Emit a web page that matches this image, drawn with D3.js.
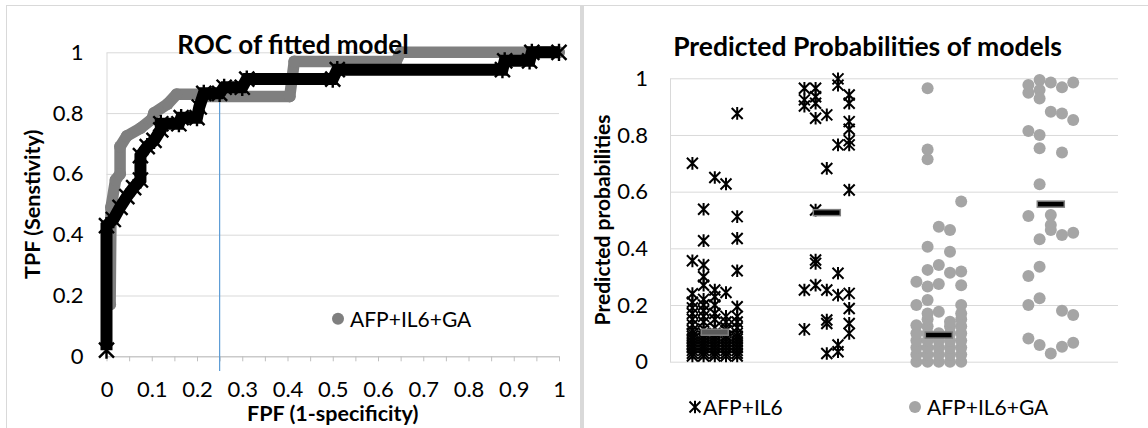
<!DOCTYPE html>
<html>
<head>
<meta charset="utf-8">
<script src="https://cdn.jsdelivr.net/npm/d3@7"></script>
<style>
  body { margin: 0; background: #fff; }
  svg text { font-family: Lato, "Liberation Sans", sans-serif; fill: #000; }
</style>
</head>
<body>
<svg id="chart" width="1148" height="428"></svg>
<script>
// ROC curve vertices, [FPF, TPF].
const rocAfpIl6 = [
  [0, 0.02], [0, 0.43], [0.015, 0.45], [0.03, 0.49], [0.045, 0.525], [0.06, 0.555],
  [0.075, 0.58], [0.075, 0.66], [0.09, 0.69], [0.105, 0.71], [0.12, 0.745], [0.12, 0.765],
  [0.16, 0.765], [0.165, 0.785], [0.2, 0.785], [0.205, 0.82], [0.215, 0.865], [0.25, 0.865],
  [0.26, 0.885], [0.3, 0.885], [0.31, 0.912], [0.5, 0.912], [0.51, 0.943], [0.875, 0.943],
  [0.88, 0.972], [0.935, 0.972], [0.94, 1], [1, 1],
];
const rocAfpIl6Ga = [
  [0.008, 0.17], [0.01, 0.49], [0.02, 0.58], [0.03, 0.6], [0.03, 0.69], [0.045, 0.725],
  [0.075, 0.75], [0.1, 0.78], [0.105, 0.8], [0.135, 0.83], [0.155, 0.862], [0.21, 0.862],
  [0.22, 0.855], [0.405, 0.855], [0.415, 0.97], [0.64, 0.97], [0.65, 1], [1, 1],
];
const cutoffFpf = 0.25;
const cutoffTpf = [-0.048, 0.86];

const rocTicks = [0, 0.1, 0.2, 0.3, 0.4, 0.5, 0.6, 0.7, 0.8, 0.9, 1];
const rocMinorTicks = [0, 0.05, 0.1, 0.15, 0.2, 0.25, 0.3, 0.35, 0.4, 0.45, 0.5,
  0.55, 0.6, 0.65, 0.7, 0.75, 0.8, 0.85, 0.9, 0.95, 1];
const probTicks = [0, 0.2, 0.4, 0.6, 0.8, 1];

// Predicted probabilities, [jitter column, values].
const il6Neg = [
  [0.2, [0.02, 0.03, 0.04, 0.05, 0.06, 0.07, 0.08, 0.09, 0.1, 0.11, 0.13, 0.15, 0.17, 0.19, 0.21, 0.24, 0.356, 0.70]],
  [0.3, [0.02, 0.03, 0.04, 0.05, 0.06, 0.07, 0.08, 0.09, 0.1, 0.115, 0.14, 0.16, 0.18, 0.2, 0.22, 0.27, 0.30, 0.341, 0.427, 0.538]],
  [0.4, [0.02, 0.03, 0.04, 0.05, 0.06, 0.07, 0.08, 0.09, 0.1, 0.12, 0.15, 0.17, 0.2, 0.229, 0.253, 0.65]],
  [0.5, [0.02, 0.03, 0.04, 0.05, 0.06, 0.07, 0.08, 0.09, 0.11, 0.12, 0.14, 0.16, 0.244, 0.627]],
  [0.6, [0.02, 0.03, 0.04, 0.05, 0.06, 0.07, 0.08, 0.09, 0.1, 0.12, 0.14, 0.16, 0.194, 0.321, 0.435, 0.512, 0.876]],
];
const il6Pos = [
  [1.2, [0.965, 0.924, 0.902, 0.253, 0.114]],
  [1.3, [0.965, 0.935, 0.912, 0.859, 0.535, 0.359, 0.347, 0.27]],
  [1.4, [0.871, 0.682, 0.253, 0.147, 0.135, 0.029]],
  [1.5, [0.998, 0.976, 0.765, 0.312, 0.235, 0.059, 0.035]],
  [1.6, [0.941, 0.912, 0.847, 0.82, 0.78, 0.765, 0.606, 0.241, 0.188, 0.135, 0.1]],
];
const gaNeg = [
  [2.2, [0, 0.025, 0.05, 0.075, 0.1, 0.129, 0.2, 0.282]],
  [2.3, [0, 0.025, 0.05, 0.075, 0.1, 0.125, 0.15, 0.17, 0.218, 0.265, 0.324, 0.406, 0.714, 0.749, 0.965]],
  [2.4, [0, 0.025, 0.05, 0.075, 0.1, 0.176, 0.274, 0.341, 0.476]],
  [2.5, [0, 0.025, 0.05, 0.075, 0.1, 0.125, 0.141, 0.314, 0.388, 0.465]],
  [2.6, [0, 0.025, 0.05, 0.075, 0.1, 0.125, 0.15, 0.17, 0.2, 0.27, 0.318, 0.565]],
];
const gaPos = [
  [3.2, [0.976, 0.949, 0.814, 0.514, 0.302, 0.2, 0.082]],
  [3.3, [0.994, 0.959, 0.929, 0.8, 0.753, 0.626, 0.432, 0.335, 0.224, 0.059]],
  [3.4, [0.985, 0.882, 0.518, 0.482, 0.465, 0.029]],
  [3.5, [0.968, 0.876, 0.738, 0.447, 0.18, 0.053]],
  [3.6, [0.985, 0.853, 0.455, 0.165, 0.067]],
];
const meanX = [0.4, 1.4, 2.4, 3.4];
const meanY = [0.104, 0.526, 0.094, 0.556];

const seriesNames = ['AFP+IL6', 'AFP+IL6+GA'];

const flatten = cols => cols.flatMap(([x, ys]) => ys.map(y => ({ x, y })));

// Excel style star marker: an X crossed by a vertical bar.
const starPath = s => `M${-s},${-s}L${s},${s}M${-s},${s}L${s},${-s}M0,${-s * 1.15}L0,${s * 1.15}`;

const svg = d3.select('#chart');
const gridColor = '#d9d9d9';

// Chart area borders.
svg.append('line').attr('x1', 6).attr('x2', 1148).attr('y1', 5.5).attr('y2', 5.5)
  .attr('stroke', gridColor);
svg.append('line').attr('x1', 6.5).attr('x2', 6.5).attr('y1', 5.5).attr('y2', 428)
  .attr('stroke', gridColor);
svg.append('rect').attr('x', 580).attr('y', 5.5).attr('width', 4).attr('height', 423)
  .attr('fill', gridColor);

const styleAxis = g => g
  .attr('font-family', null)
  .attr('font-size', 22)
  .call(a => a.selectAll('.tick text').attr('fill', '#000'));

// ---------- ROC of fitted model ----------
{
  const x = d3.scaleLinear().domain([0, 1]).range([106.5, 559]);
  const y = d3.scaleLinear().domain([0, 1]).range([356.3, 52.3]);
  const g = svg.append('g').attr('class', 'roc');

  g.append('g')
    .attr('transform', `translate(${x(0)},0)`)
    .call(d3.axisLeft(y).tickValues(probTicks).tickSize(-(x(1) - x(0))).tickSizeOuter(0)
      .tickPadding(23).tickFormat(d3.format('~g')))
    .call(styleAxis)
    .call(a => a.select('.domain').attr('stroke', gridColor))
    .call(a => a.selectAll('.tick line').attr('stroke', gridColor));

  g.append('g')
    .attr('transform', `translate(0,${y(0)})`)
    .call(d3.axisBottom(x).tickValues(rocMinorTicks).tickSize(5).tickSizeOuter(0).tickFormat(''))
    .call(a => a.select('.domain').attr('stroke', '#bfbfbf'))
    .call(a => a.selectAll('.tick line').attr('stroke', '#bfbfbf'));

  g.append('g')
    .attr('transform', `translate(0,${y(0)})`)
    .call(d3.axisBottom(x).tickValues(rocTicks).tickSize(0).tickPadding(25).tickFormat(d3.format('~g')))
    .call(styleAxis)
    .call(a => a.select('.domain').remove());

  // Cut-off line.
  g.append('line')
    .attr('x1', x(cutoffFpf)).attr('x2', x(cutoffFpf))
    .attr('y1', y(cutoffTpf[0])).attr('y2', y(cutoffTpf[1]))
    .attr('stroke', '#5b9bd5').attr('stroke-width', 1.2);

  const line = d3.line().x(d => x(d[0])).y(d => y(d[1]));

  // AFP+IL6+GA, grey circles.
  g.append('path').datum(rocAfpIl6Ga)
    .attr('d', line).attr('fill', 'none')
    .attr('stroke', '#7f7f7f').attr('stroke-width', 11.5)
    .attr('stroke-linejoin', 'round').attr('stroke-linecap', 'round');
  g.selectAll('.ga-pt').data(rocAfpIl6Ga).enter().append('circle')
    .attr('class', 'ga-pt')
    .attr('cx', d => x(d[0])).attr('cy', d => y(d[1])).attr('r', 6)
    .attr('fill', '#7f7f7f');

  // AFP+IL6, black stars.
  g.append('path').datum(rocAfpIl6)
    .attr('d', line).attr('fill', 'none')
    .attr('stroke', '#000').attr('stroke-width', 12);
  g.selectAll('.il6-pt').data(rocAfpIl6).enter().append('path')
    .attr('class', 'il6-pt')
    .attr('transform', d => `translate(${x(d[0])},${y(d[1])})`)
    .attr('d', starPath(7.5))
    .attr('stroke', '#000').attr('stroke-width', 2.4);

  // Titles.
  g.append('text').attr('x', 293).attr('y', 54).attr('text-anchor', 'middle')
    .attr('font-size', 26).attr('font-weight', 'bold').text('ROC of fitted model');
  g.append('text').attr('x', (x(0) + x(1)) / 2).attr('y', 420.5).attr('text-anchor', 'middle')
    .attr('font-size', 21.5).attr('font-weight', 'bold').text('FPF (1-specificity)');
  g.append('text').attr('transform', `translate(32,${(y(0) + y(1)) / 2}) rotate(-90)`)
    .attr('dy', '0.35em').attr('text-anchor', 'middle')
    .attr('font-size', 21.5).attr('font-weight', 'bold').text('TPF (Senstivity)');

  // Legend.
  g.append('circle').attr('cx', 338).attr('cy', 318.7).attr('r', 6).attr('fill', '#7f7f7f');
  g.append('text').attr('x', 350).attr('y', 326.5).attr('font-size', 21).text(seriesNames[1]);
}

// ---------- Predicted Probabilities of models ----------
{
  const x = d3.scaleLinear().domain([0, 4]).range([670, 1118]);
  const y = d3.scaleLinear().domain([0, 1]).range([361.7, 78.3]);
  const g = svg.append('g').attr('class', 'probs');

  g.append('g')
    .attr('transform', `translate(${x(0)},0)`)
    .call(d3.axisLeft(y).tickValues(probTicks).tickSize(-(x(4) - x(0))).tickSizeOuter(0)
      .tickPadding(22).tickFormat(d3.format('~g')))
    .call(styleAxis)
    .call(a => a.select('.domain').attr('stroke', gridColor))
    .call(a => a.selectAll('.tick line').attr('stroke', gridColor));

  const stars = flatten(il6Neg).concat(flatten(il6Pos));
  const dots = flatten(gaNeg).concat(flatten(gaPos));

  g.selectAll('.dot').data(dots).enter().append('circle')
    .attr('class', 'dot')
    .attr('cx', d => x(d.x)).attr('cy', d => y(d.y)).attr('r', 6)
    .attr('fill', '#a5a5a5');

  g.selectAll('.star').data(stars).enter().append('path')
    .attr('class', 'star')
    .attr('transform', d => `translate(${x(d.x)},${y(d.y)})`)
    .attr('d', starPath(5.5))
    .attr('fill', 'none').attr('stroke', '#000').attr('stroke-width', 2);

  // Group means.
  g.selectAll('.mean').data(meanX).enter().append('rect')
    .attr('class', 'mean')
    .attr('x', d => x(d) - 13.5).attr('y', (d, i) => y(meanY[i]) - 3)
    .attr('width', 27).attr('height', 6)
    .attr('fill', (d, i) => i === 0 ? '#595959' : '#000')
    .attr('stroke', '#7f7f7f').attr('stroke-width', 1.5);

  // Titles.
  g.append('text').attr('x', 867.5).attr('y', 56).attr('text-anchor', 'middle')
    .attr('font-size', 26.5).attr('font-weight', 'bold').text('Predicted Probabilities of models');
  g.append('text').attr('transform', `translate(603,${(y(0) + y(1)) / 2}) rotate(-90)`)
    .attr('dy', '0.35em').attr('text-anchor', 'middle')
    .attr('font-size', 21).attr('font-weight', 'bold').text('Predicted probabilities');

  // Legend.
  g.append('path').attr('transform', 'translate(695,407)').attr('d', starPath(5.5))
    .attr('stroke', '#000').attr('stroke-width', 2);
  g.append('text').attr('x', 703).attr('y', 415).attr('font-size', 21).text(seriesNames[0]);
  g.append('circle').attr('cx', 915).attr('cy', 407).attr('r', 6).attr('fill', '#a5a5a5');
  g.append('text').attr('x', 927).attr('y', 415).attr('font-size', 21).text(seriesNames[1]);
}
</script>
</body>
</html>
